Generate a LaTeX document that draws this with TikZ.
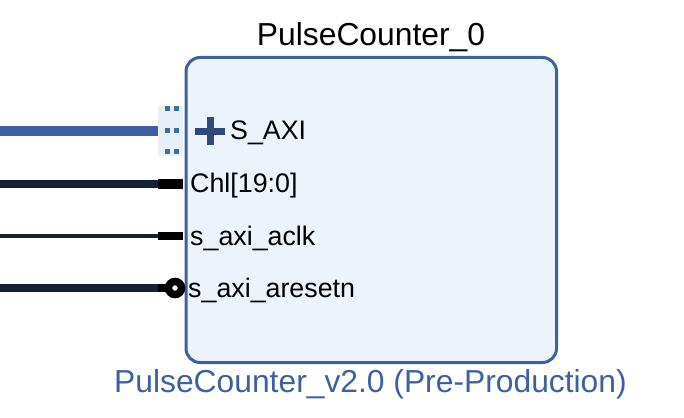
\documentclass[tikz,border=0pt]{standalone}
\usepackage{fontspec}
\setmainfont{Liberation Sans}
\definecolor{boxblue}{RGB}{60,96,160}
\definecolor{boxfill}{RGB}{236,243,251}
\definecolor{wirecol}{RGB}{20,32,52}
\definecolor{busblue}{RGB}{62,96,163}
\definecolor{iconblue}{RGB}{60,110,160}
\definecolor{iconbg}{RGB}{232,239,248}
\definecolor{plusblue}{RGB}{48,72,122}
\newcommand{\titlefont}{\fontsize{31.8}{36}\selectfont}
\newcommand{\portfont}{\fontsize{26.8}{30}\selectfont}
\begin{document}
\begin{tikzpicture}[x=1pt,y=-1pt,
  portlabel/.style={anchor=base west, inner sep=0pt, font=\portfont},
  stub/.style={fill=black, inner sep=0pt, anchor=west, minimum width=25pt},
  sq/.style={fill=iconblue, inner sep=0pt, minimum size=5pt}]
\useasboundingbox (0,0) rectangle (684,417);
% block
\node[draw=boxblue, line width=3pt, fill=boxfill, rounded corners=14pt,
      minimum width=370.5pt, minimum height=305pt, inner sep=0pt,
      anchor=north west] (ip) at (184.5,56) {};
\node[font=\titlefont, anchor=base, inner sep=0pt] (title) at (371,46) {PulseCounter\_0};
\node[font=\titlefont, text=busblue, anchor=base, inner sep=0pt] (ver) at (370.5,392) {PulseCounter\_v2.0 (Pre-Production)};
% free ends
\coordinate (saxi-in) at (0,130.5);
\coordinate (chl-in) at (0,183.5);
\coordinate (aclk-in) at (0,235.5);
\coordinate (rst-in) at (0,288);
% S_AXI interface
\node[fill=iconbg, inner sep=0pt, minimum width=25pt, minimum height=50pt, anchor=west] (saxi) at (158,130.5) {};
\draw[busblue, line width=10pt] (saxi-in) -- (saxi.west);
\node[sq] (sq1) at (167,108.5) {};
\node[sq] (sq2) at (176.5,108.5) {};
\node[sq] (sq3) at (167,130) {};
\node[sq] (sq4) at (176.5,130) {};
\node[sq] (sq5) at (167,151.5) {};
\node[sq] (sq6) at (176.5,151.5) {};
\coordinate (plus) at (210,131);
\draw[plusblue, line width=7pt] ([xshift=-15pt]plus) -- ([xshift=15pt]plus);
\draw[plusblue, line width=7pt] ([yshift=-14pt]plus) -- ([yshift=14pt]plus);
\node[portlabel] (saxi-l) at (230,139) {S\_AXI};
% Chl
\node[stub, minimum height=10pt] (chl) at (158,183.5) {};
\draw[wirecol, line width=8pt] (chl-in) -- (chl.west);
\node[portlabel] (chl-l) at (190,192) {Chl[19:0]};
% aclk
\node[stub, minimum height=8pt] (aclk) at (158,235.5) {};
\draw[wirecol, line width=4pt] (aclk-in) -- (aclk.west);
\node[portlabel] (aclk-l) at (190,245) {s\_axi\_aclk};
% aresetn
\node[fill=black, inner sep=0pt, anchor=west, minimum width=12pt, minimum height=8pt] (rst) at (158,288) {};
\draw[wirecol, line width=8.5pt] (rst-in) -- (rst.west);
\node[circle, draw=black, line width=7.5pt, fill=white, minimum size=13pt, inner sep=0pt] (bub) at (175,288) {};
\node[portlabel] (rst-l) at (188,297) {s\_axi\_aresetn};
\end{tikzpicture}
\end{document}
